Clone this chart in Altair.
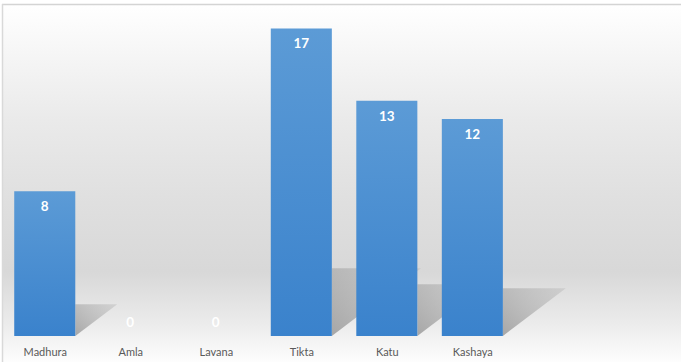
import altair as alt
import pandas as pd

# ---- data ----
categories = ["Madhura", "Amla", "Lavana", "Tikta", "Katu", "Kashaya"]
values = [8, 0, 0, 17, 13, 12]

# ---- layout / style ----
W, H = 679, 332
X_DOMAIN = [-0.5, 7.44]
Y_DOMAIN = [0, 18.35]
BAR_HALF = 0.357
SH_H = 0.22      # shadow height as share of bar height
SH_DX = 0.29     # shadow horizontal reach as share of bar pixel height
px_x = W / (X_DOMAIN[1] - X_DOMAIN[0])
px_y = H / (Y_DOMAIN[1] - Y_DOMAIN[0])

df = pd.DataFrame({"cat": categories, "v": values, "i": list(range(len(categories)))})
df["x1"] = df["i"] - BAR_HALF
df["x2"] = df["i"] + BAR_HALF
df["labely"] = [v - 16 / px_y if v > 0 else 13 / px_y for v in values]

rows = []
for c, v, i in zip(categories, values, range(len(categories))):
    if v <= 0:
        continue
    xr = i + BAR_HALF
    hs = v * SH_H
    dx = (v * px_y * SH_DX) / px_x
    rows.append({"cat": c, "sx": xr, "lo": 0, "hi": hs})
    rows.append({"cat": c, "sx": xr + dx, "lo": hs, "hi": hs})
shadow = pd.DataFrame(rows)

xscale = alt.Scale(domain=X_DOMAIN, nice=False, zero=False)
yscale = alt.Scale(domain=Y_DOMAIN, nice=False)

names_js = "[" + ",".join("'%s'" % c for c in categories) + "]"
xaxis = alt.Axis(values=list(range(len(categories))), labelExpr=names_js + "[datum.value]",
                 domain=False, ticks=False, grid=False, title=None,
                 labelFont="Lato", labelFontSize=11, labelColor="#595959",
                 labelPadding=10, labelAngle=0, zindex=2)

bg = alt.Chart(alt.Data(values=[{}])).mark_rect(
    color=alt.LinearGradient(
        gradient="linear", x1=0, x2=0, y1=0, y2=1,
        stops=[
            alt.GradientStop(color="#ffffff", offset=0),
            alt.GradientStop(color="#f7f7f7", offset=0.12),
            alt.GradientStop(color="#eaeaea", offset=0.32),
            alt.GradientStop(color="#dfdfdf", offset=0.55),
            alt.GradientStop(color="#d8d8d8", offset=0.74),
            alt.GradientStop(color="#ebebeb", offset=0.88),
            alt.GradientStop(color="#ffffff", offset=1),
        ],
    )
).encode(x=alt.value(0), x2=alt.value(W), y=alt.value(0), y2=alt.value(H + 30))

top_line = alt.Chart(alt.Data(values=[{}])).mark_rule(color="#d4d4d4", strokeWidth=1.5).encode(
    x=alt.value(0), x2=alt.value(W), y=alt.value(0.5))
left_line = alt.Chart(alt.Data(values=[{}])).mark_rule(color="#d9d9d9", strokeWidth=1.5).encode(
    x=alt.value(0.5), y=alt.value(0), y2=alt.value(H + 30))

shadows = alt.Chart(shadow).mark_area(
    interpolate="linear",
    color=alt.LinearGradient(
        gradient="linear", x1=0, y1=1, x2=1, y2=0,
        stops=[
            alt.GradientStop(color="rgba(135,135,135,0.7)", offset=0),
            alt.GradientStop(color="rgba(175,175,175,0.35)", offset=1),
        ],
    ),
).encode(
    x=alt.X("sx:Q", scale=xscale, axis=xaxis),
    y=alt.Y("lo:Q", scale=yscale, axis=None, stack=None),
    y2="hi:Q",
    detail="cat:N",
)

bars = alt.Chart(df).mark_bar(
    color=alt.LinearGradient(
        gradient="linear", x1=0, x2=0, y1=0, y2=1,
        stops=[
            alt.GradientStop(color="#5c9bd6", offset=0),
            alt.GradientStop(color="#3a82cc", offset=1),
        ],
    )
).encode(
    x=alt.X("x1:Q", scale=xscale, axis=xaxis),
    x2="x2:Q",
    y=alt.Y("v:Q", scale=yscale, axis=None),
    y2=alt.datum(0),
)

labels = alt.Chart(df).mark_text(
    color="white", font="Lato", fontWeight="bold", fontSize=13.5, baseline="middle", align="center"
).encode(
    x=alt.X("i:Q", scale=xscale, axis=xaxis),
    y=alt.Y("labely:Q", scale=yscale, axis=None),
    text="v:Q",
)

chart = alt.layer(bg, top_line, left_line, shadows, bars, labels).properties(
    width=W, height=H,
    padding={"left": 2, "top": 4, "right": 0, "bottom": 26},
    autosize=alt.AutoSizeParams(type="none"),
    background="white",
).configure_view(stroke=None)

chart.save("out.html", embed_options={"renderer": "svg", "actions": False})
